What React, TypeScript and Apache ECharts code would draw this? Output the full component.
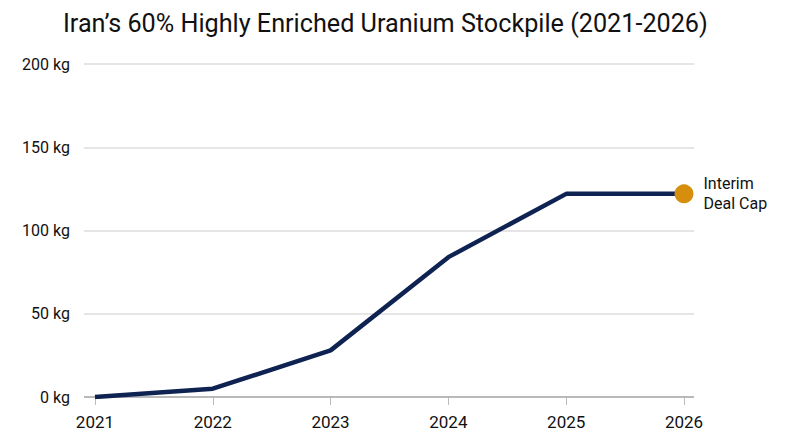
import { useEffect, useRef } from "react";
import * as echarts from "echarts";

const years = [2021, 2022, 2023, 2024, 2025, 2026];
const stockpileKg = [0, 5, 28, 84, 122, 122];
const yTicks = [0, 50, 100, 150, 200];
const capLabel = "Interim\nDeal Cap";

const FONT = "Roboto, 'Noto Sans', sans-serif";
const X_MIN = 2020.907;
const X_MAX = 2026.085;

const App = () => {
  const chartRef = useRef<HTMLDivElement | null>(null);

  useEffect(() => {
    if (!chartRef.current) {
      return;
    }
    const instance = echarts.init(chartRef.current, undefined, {
      renderer: "svg",
    });

    const lineData = years.map((y, i) => [y, stockpileKg[i]]);
    const last = lineData[lineData.length - 1];

    const option: echarts.EChartsOption = {
      animation: false,
      textStyle: { fontFamily: FONT },
      title: {
        text: "Iran’s 60% Highly Enriched Uranium Stockpile (2021-2026)",
        left: 58,
        top: 6,
        textStyle: {
          fontFamily: FONT,
          fontSize: 25.2,
          fontWeight: "normal",
          color: "#111111",
        },
      },
      grid: {
        left: 84,
        right: 106,
        top: 64,
        bottom: 50,
        containLabel: false,
      },
      xAxis: {
        type: "value",
        min: X_MIN,
        max: X_MAX,
        axisLine: { show: false },
        splitLine: { show: false },
        axisTick: {
          show: true,
          customValues: years,
          length: 8,
          lineStyle: { color: "#bbbbbb" },
        },
        axisLabel: {
          customValues: years,
          formatter: (v: number) => String(Math.round(v)),
          color: "#111111",
          fontSize: 17,
          margin: 16,
          fontFamily: FONT,
        },
      },
      yAxis: {
        type: "value",
        min: 0,
        max: 200,
        interval: 50,
        axisLine: { show: false },
        axisTick: { show: false },
        axisLabel: {
          customValues: yTicks,
          formatter: (v: number) => `${v} kg`,
          color: "#111111",
          fontSize: 16,
          margin: 14,
          fontFamily: FONT,
        },
        splitLine: {
          lineStyle: { color: "#dddddd", width: 1.5 },
        },
      },
      series: [
        {
          type: "line",
          data: lineData,
          showSymbol: false,
          lineStyle: { width: 4.5, color: "#0f2352" },
          itemStyle: { color: "#0f2352" },
          z: 3,
          markLine: {
            silent: true,
            symbol: "none",
            label: { show: false },
            lineStyle: { color: "#aaaaaa", width: 1.5, type: "solid" },
            data: [[{ coord: [X_MIN, 0] }, { coord: [X_MAX, 0] }]],
            z: 2,
          },
        },
        {
          type: "scatter",
          data: [last],
          symbolSize: 19,
          itemStyle: { color: "#d68f0c", opacity: 1 },
          z: 5,
          label: {
            show: true,
            position: "right",
            distance: 10,
            formatter: capLabel,
            color: "#111111",
            opacity: 1,
            fontSize: 16,
            lineHeight: 20,
            fontFamily: FONT,
          },
        },
      ],
    };

    instance.setOption(option);

    return () => {
      instance.dispose();
    };
  }, []);

  return <div ref={chartRef} style={{ width: 800, height: 447, margin: -8 }} />;
};

export default App;
